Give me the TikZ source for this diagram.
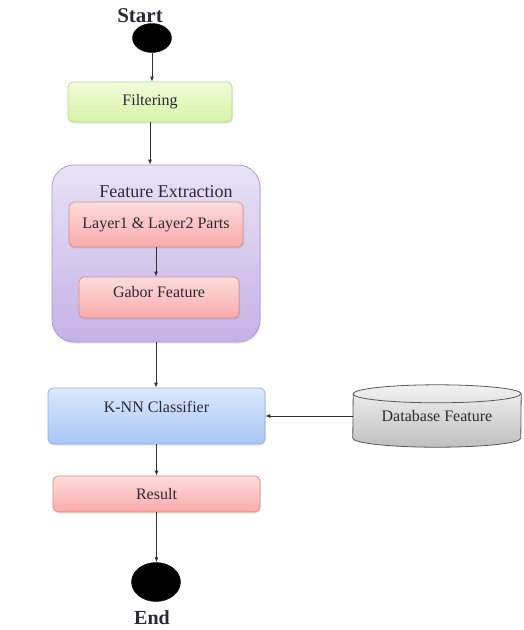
\documentclass[tikz,border=0pt]{standalone}
\usepackage{fontspec}
\setmainfont{Liberation Serif}
\usetikzlibrary{calc,arrows.meta,shapes.geometric,shadows,backgrounds}

\definecolor{txtcol}{HTML}{2A2A36}
\definecolor{lincol}{HTML}{333333}
\definecolor{grntop}{HTML}{F1FBDA}
\definecolor{grnbot}{HTML}{D6F3A6}
\definecolor{grnbrd}{HTML}{B7D98E}
\definecolor{pnktop}{HTML}{FDDCDC}
\definecolor{pnkbot}{HTML}{F9AAAA}
\definecolor{pnkbrd}{HTML}{D98C8C}
\definecolor{blutop}{HTML}{DCE8FD}
\definecolor{blubot}{HTML}{A8C6F5}
\definecolor{blubrd}{HTML}{8CAEDF}
\definecolor{prptop}{HTML}{E8E2F6}
\definecolor{prpbot}{HTML}{C4B2E6}
\definecolor{prpbrd}{HTML}{A995D0}
\tikzset{
  boxtext/.style={text=txtcol, font=\fontsize{16}{19}\selectfont},
  stepbox/.style={boxtext, rectangle, rounded corners=5pt, line width=0.7pt,
    drop shadow={opacity=0.18, shadow xshift=1pt, shadow yshift=-1.5pt}},
  greenbox/.style={stepbox, draw=grnbrd, top color=grntop, bottom color=grnbot},
  pinkbox/.style={stepbox, draw=pnkbrd, top color=pnktop, bottom color=pnkbot},
  bluebox/.style={stepbox, draw=blubrd, top color=blutop, bottom color=blubot},
  groupbox/.style={rectangle, rounded corners=22pt, line width=0.7pt, draw=prpbrd,
    top color=prptop, bottom color=prpbot,
    drop shadow={opacity=0.18, shadow xshift=1pt, shadow yshift=-1.5pt}},
  dot/.style={ellipse, fill=black, draw=black, inner sep=0pt},
  termtext/.style={text=txtcol, font=\bfseries\fontsize{21}{24}\selectfont},
  arr/.style={draw=lincol, line width=0.8pt, -{Latex[length=5pt,width=4pt]}},
  dbbody/.style={draw=black!65, line width=0.8pt, top color=black!5, bottom color=black!25}
}

\begin{document}
\begin{tikzpicture}[x=1pt, y=-1pt]
			%%%%% START %%%%%
			\useasboundingbox (0,0) rectangle (523,630);
			
			\node[termtext] (startlbl) at (140,16) {Start};
			\node[dot, minimum width=39pt, minimum height=29pt] (startdot) at (152,38) {};
			
			\node[greenbox, minimum width=164pt, minimum height=40pt] (filt) at (150,102) {Filtering};
			
			% feature extraction group
			\node[groupbox, minimum width=208pt, minimum height=177pt] (fe) at (156,253.5) {};
			\node[boxtext, font=\fontsize{18}{21}\selectfont] (felbl) at (166,192) {Feature Extraction};
			\node[pinkbox, minimum width=174pt, minimum height=45pt] (layer) at (156,224.5) {Layer1 \& Layer2 Parts};
			\node[pinkbox, minimum width=160pt, minimum height=41pt, text depth=12pt] (gabor) at (159,297.5) {Gabor Feature};
			
			\node[bluebox, minimum width=217pt, minimum height=56pt, text depth=18pt] (knn) at (156.5,416) {K-NN Classifier};
			\node[boxtext, minimum width=168pt, minimum height=62pt] (dbf) at (437,416) {Database Feature};
			\begin{scope}[on background layer]
			\draw[dbbody] ($(dbf.south west)+(0,-9)$) arc[start angle=180, end angle=360, x radius=84pt, y radius=9pt]
			  -- ($(dbf.north east)+(0,9)$) arc[start angle=0, end angle=180, x radius=84pt, y radius=9pt] -- cycle;
			\draw[draw=black!65, line width=0.8pt] ($(dbf.north west)+(0,9)$) arc[start angle=180, end angle=360, x radius=84pt, y radius=9pt];
			\end{scope}
			
			\node[pinkbox, minimum width=207pt, minimum height=36pt] (res) at (156.5,494) {Result};
			
			\node[dot, minimum width=49pt, minimum height=39pt] (enddot) at (156,582) {};
			\node[termtext, font=\bfseries\fontsize{20}{23}\selectfont] (endlbl) at (152,618) {End};
			
			% connectors
			\draw[arr] (startdot) -- (startdot |- filt.north);
			\draw[arr] (filt) -- (filt |- fe.north);
			\draw[arr] (layer) -- (layer |- gabor.north);
			\draw[arr] (fe) -- (fe |- knn.north);
			\draw[arr] (dbf.west) -- (dbf.west -| knn.east);
			\draw[arr] (knn) -- (knn |- res.north);
			\draw[arr] (res) -- (res |- enddot.north);
			
			%%%%% END %%%%%
\end{tikzpicture}
\end{document}
